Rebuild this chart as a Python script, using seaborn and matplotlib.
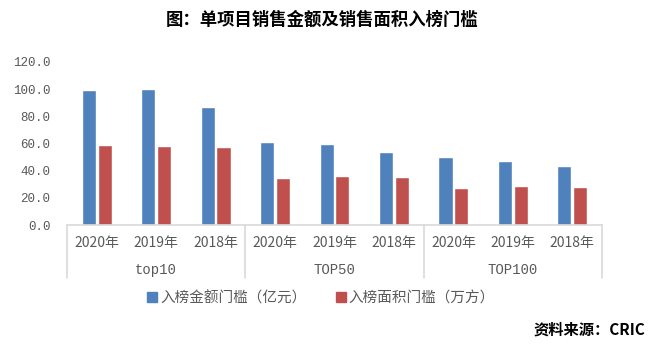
import matplotlib
matplotlib.use("Agg")
import matplotlib.pyplot as plt
import seaborn as sns
import pandas as pd
from matplotlib.lines import Line2D

groups = ["top10", "TOP50", "TOP100"]
years = ["2020年", "2019年", "2018年"]
series_names = ["入榜金额门槛（亿元）", "入榜面积门槛（万方）"]
amount = [99.3, 100.0, 86.8, 61.0, 59.6, 53.7, 50.0, 47.1, 43.4]
area = [58.8, 58.1, 57.4, 34.6, 36.0, 35.3, 27.2, 28.7, 27.9]
colors = ["#4F81BD", "#C0504D"]

cats = [f"{g}|{y}" for g in groups for y in years]
df = pd.DataFrame({
    "cat": cats * 2,
    "value": amount + area,
    "series": [series_names[0]] * len(cats) + [series_names[1]] * len(cats),
})

sns.set_theme(style="white")
plt.rcParams["font.family"] = ["Noto Sans CJK SC", "DejaVu Sans"]
mono = ["Liberation Mono", "DejaVu Sans Mono"]

fig = plt.figure(figsize=(6.57, 3.47), dpi=100)
ax = fig.add_axes([67/657, 1-225/347, 535/657, 163/347])

sns.barplot(data=df, x="cat", y="value", hue="series", order=cats,
            hue_order=series_names, palette=colors, width=0.53, gap=0.1,
            saturation=1, ax=ax, legend=False)

ax.set_ylim(0, 120)
ax.set_yticks(range(0, 121, 20))
ax.set_yticklabels([f"{v:.1f}" for v in range(0, 121, 20)], color="#595959",
                   fontsize=9, family=mono)
ax.set_xlim(-0.5, len(cats) - 0.5)
ax.set_xticks(range(len(cats)))
ax.set_xticklabels(years * len(groups), color="#595959", fontsize=10)
ax.tick_params(axis="both", length=0)
ax.tick_params(axis="x", pad=8)
ax.tick_params(axis="y", pad=12)
ax.set_xlabel("")
ax.set_ylabel("")
for s in ["left", "right", "top"]:
    ax.spines[s].set_visible(False)
ax.spines["bottom"].set_color("#D9D9D9")
ax.spines["bottom"].set_linewidth(1.2)

trans = ax.get_xaxis_transform()
for b in [-0.5, 2.5, 5.5, 8.5]:
    ax.add_line(Line2D([b, b], [0, -0.325], transform=trans, color="#D9D9D9",
                       lw=1.2, clip_on=False))
for i, g in enumerate(groups):
    ax.text(i * 3 + 1, -0.276, g, transform=trans, ha="center", va="center",
            fontsize=10, color="#595959", family=mono)

handles = [plt.Rectangle((0, 0), 1, 1, color=c) for c in colors]
fig.legend(handles, series_names, loc="center", bbox_to_anchor=(321/657, 1-298/347),
           ncol=2, frameon=False, handlelength=0.7, handleheight=0.7,
           handletextpad=0.2, columnspacing=2.0,
           prop={"size": 10.5}, labelcolor="#595959")

fig.text(322/657, 1-20/347, "图：单项目销售金额及销售面积入榜门槛", ha="center", va="center",
         fontsize=12.5, fontweight="bold", color="#000000")
fig.text(645/657, 1-330/347, "资料来源：CRIC", ha="right", va="center",
         fontsize=11, fontweight="bold", color="#000000")

fig.savefig("out.png", dpi=100)
